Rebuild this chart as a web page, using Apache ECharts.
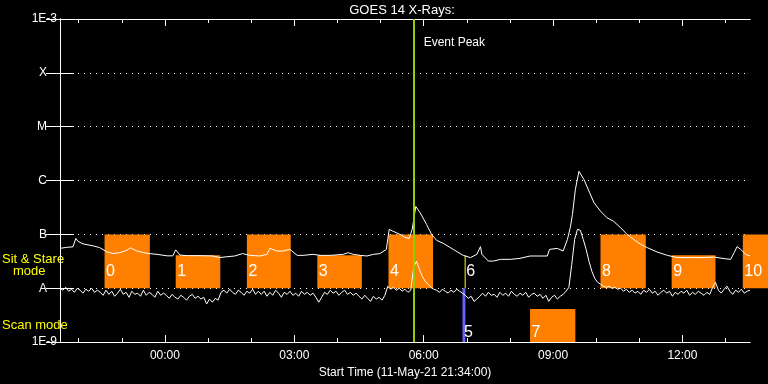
<!DOCTYPE html>
<html><head><meta charset="utf-8">
<script src="https://cdn.jsdelivr.net/npm/echarts@6/dist/echarts.min.js"></script>
<style>html,body{margin:0;padding:0;background:#000}#c{width:768px;height:384px}</style>
</head><body><div id="c"></div>
<script>
// ---------- data ----------
const titleText = 'GOES 14 X-Rays:';
const xAxisTitle = 'Start Time (11-May-21 21:34:00)';
const axisSpanMin = 960; // minutes after start time
const timeTickMinutes = [146, 326, 506, 686, 866];
const timeTickLabels = ['00:00', '03:00', '06:00', '09:00', '12:00'];
const hourTickMinutes = [26, 86, 146, 206, 266, 326, 386, 446, 506, 566, 626, 686, 746, 806, 866, 926];
const fluxLevels = [1e-9, 1e-8, 1e-7, 1e-6, 1e-5, 1e-4, 1e-3];
const fluxLevelLabels = ['1E-9', 'A', 'B', 'C', 'M', 'X', '1E-3'];
const fluxUnit = 1e-8; // flux arrays below are in units of 1e-8 W/m^2 (A class)

// long channel (upper curve)
const longMinutes = [0,9,18,22,25,32,46,55,65,74,83,93,98,107,121,135,149,157,161,167,
  177,195,213,222,232,243,254,264,278,288,292,302,310,320,330,338,352,362,376,394,
  401,408,418,427,436,445,454,458,463,473,480,486,490,495,497,501,510,517,524,533,
  547,561,571,580,585,587,596,603,613,627,640,654,668,678,681,692,700,706,710,713,
  717,722,729,737,743,752,761,770,780,789,798,808,817,831,845,859,877,896,910,924,
  933,938,942,947,954,960];
const longFlux = [5.5,5.74,5.87,8.43,7.42,6.67,6.13,5.7,4.74,4.4,4.58,5.06,5.63,4.91,4.45,4.26,4.0,4.0,5.17,4.13,
  4.03,4.03,3.97,3.71,3.85,3.97,4.4,4.08,3.97,4.26,5.5,4.91,4.91,5.27,4.08,4.08,4.26,4.08,4.08,4.26,
  4.58,4.26,4.08,3.97,4.26,4.4,5.27,12.4,11.5,10,8.8,8.43,12.4,33,31,25.3,15.3,10,7.74,6.85,
  5.27,4.08,3.71,4.26,5.93,4.26,3.2,3.2,3.44,3.44,3.59,3.97,3.97,3.97,5.27,5.5,4.91,8.08,13.5,23.5,
  68,148.6,104,59,38.7,27,20.4,17.6,13.3,10,8.08,6.53,5.68,4.7,4.08,3.71,3.71,3.71,3.8,3.55,
  3.44,4.58,5.93,5.27,4.26,3.97];

// short channel (lower curve), one sample every 4 minutes
const shortStepMin = 4;
const shortFlux = [
  1.00,0.92,1.04,0.88,0.96,0.84,1.00,0.92,0.81,0.96,0.88,1.00,0.84,0.92,
  0.84,0.74,0.92,0.77,0.88,0.71,0.81,0.96,0.77,0.84,0.68,0.88,0.77,0.81,0.71,0.92,0.74,0.84,0.77,0.68,0.88,0.74,0.81,
  0.74,0.65,0.77,0.68,0.63,0.74,0.68,0.60,0.71,0.77,0.65,0.71,0.63,0.68,
  0.51,0.63,0.55,0.65,0.60,0.84,
  0.92,0.81,0.96,0.84,0.77,0.92,0.84,0.74,0.88,0.81,0.96,0.77,0.88,
  0.77,0.88,0.71,0.84,0.74,0.92,0.81,0.68,0.84,0.77,0.88,0.74,0.81,0.71,0.88,0.77,0.84,0.74,0.81,
  0.68,0.55,0.68,
  0.84,0.77,0.92,0.81,0.88,0.74,0.84,0.92,0.77,0.84,0.74,0.81,
  0.71,0.63,0.74,0.65,0.57,0.71,0.63,0.68,0.60,0.74,
  1.09,0.96,1.04,0.92,1.00,0.88,0.96,0.84,0.92,
  2.45,3.16,2.25,1.67,1.35,1.19,1.04,0.96,
  0.92,0.84,0.96,0.88,0.81,0.92,0.84,0.96,0.88,0.81,
  0.74,0.65,0.71,0.57,0.63,0.71,
  0.81,0.71,0.84,0.74,0.77,0.68,0.84,0.74,0.81,0.71,0.88,0.77,0.71,0.81,0.74,0.84,0.68,0.77,0.81,0.71,0.77,0.65,0.74,
  0.57,
  0.68,0.74,0.63,0.71,0.77,
  0.88,
  1.04,2.78,8.08,12.4,11.9,8.08,5.27,3.16,2.06,1.53,1.29,1.19,1.09,1.04,1.09,1.00,1.04,0.96,1.00,0.88,
  0.96,0.84,0.92,0.81,0.88,0.77,0.92,0.84,0.96,0.81,0.88,0.74,0.84,0.92,0.81,0.88,0.71,0.84,0.77,0.88,0.81,0.92,0.74,0.84,0.77,0.88,0.81,0.74,0.84,0.77,
  1.04,1.29,0.92,
  0.81,0.96,1.09,0.88,0.77,0.92,0.84,0.96,0.81,0.88,0.92];

const eventPeakMin = 492;
const eventPeakText = 'Event Peak';
const eventPeakTextFlux = 3.6e-4;

// observation blocks
const obsNames = ['0','1','2','3','4','5','6','7','8','9','10'];
const obsStartMin = [62, 161, 260, 358, 457, 560, 563, 654, 752, 851, 950];
const obsEndMin   = [125, 223, 321, 420, 519, 564, 563, 717, 815, 912, 1013];
const obsTopFlux    = [1e-7, 4.1e-8, 1e-7, 4.1e-8, 1e-7, 1e-8, 4.1e-8, 4.1e-9, 1e-7, 4.1e-8, 1e-7];
const obsBottomFlux = [1e-8, 1e-8, 1e-8, 1e-8, 1e-8, 1e-9, 1e-8, 1e-9, 1e-8, 1e-8, 1e-8];
const obsMode = ['sit','sit','sit','sit','sit','scan','sit','scan','sit','sit','sit'];
const modeLabels = ['Sit & Stare', 'mode', 'Scan mode'];

// ---------- styles ----------
const FONT = '"Liberation Sans", Arial, sans-serif';
const ORANGE = '#ff8000';
const obsColors = obsNames.map((n, i) => n === '5' ? '#6464ff' : (n === '6' ? '#ffff00' : ORANGE));
const modeLabelFlux = { sit: 2.07e-8, scan: 1.53e-9 };

const longData = longMinutes.map((m, i) => [m, longFlux[i] * fluxUnit]);
const shortData = shortFlux.map((v, i) => [i * shortStepMin, v * fluxUnit]);
const obsData = obsNames.map((n, i) => [obsStartMin[i], obsEndMin[i], obsBottomFlux[i], obsTopFlux[i], i]);

const chart = echarts.init(document.getElementById('c'), null, { renderer: 'canvas' });

function baseX(extra) {
  return Object.assign({
    type: 'value', min: 0, max: axisSpanMin, gridIndex: 0,
    axisLine: { show: true, lineStyle: { color: '#fff', width: 1 } },
    splitLine: { show: false },
    axisLabel: { show: false }
  }, extra);
}

const option = {
  backgroundColor: '#000',
  animation: false,
  grid: { left: 60, right: 18, top: 19, bottom: 41 },
  graphic: [
    { type: 'text', x: 402, y: 10, style: { text: titleText, fill: '#fff', font: '13px ' + FONT, align: 'center', verticalAlign: 'middle' } },
    { type: 'text', x: 2, y: 259, style: { text: modeLabels[0], fill: '#ffff00', font: '13px ' + FONT, align: 'left', verticalAlign: 'middle' } },
    { type: 'text', x: 13, y: 271, style: { text: modeLabels[1], fill: '#ffff00', font: '13px ' + FONT, align: 'left', verticalAlign: 'middle' } },
    { type: 'text', x: 2, y: 325, style: { text: modeLabels[2], fill: '#ffff00', font: '13px ' + FONT, align: 'left', verticalAlign: 'middle' } }
  ],
  xAxis: [
    baseX({
      position: 'bottom',
      axisTick: { show: true, inside: true, length: 7, customValues: timeTickMinutes, lineStyle: { color: '#fff' } },
      axisLabel: { show: true, customValues: timeTickMinutes, color: '#fff', fontSize: 12, fontFamily: FONT, margin: 8,
        formatter: v => timeTickLabels[timeTickMinutes.indexOf(Math.round(v))] || '' },
      name: xAxisTitle, nameLocation: 'middle', nameGap: 21,
      nameTextStyle: { color: '#fff', fontSize: 12, fontFamily: FONT }
    }),
    baseX({ position: 'bottom', axisTick: { show: true, inside: true, length: 4, customValues: hourTickMinutes, lineStyle: { color: '#fff' } } }),
    baseX({ position: 'top', axisTick: { show: true, inside: true, length: 7, customValues: timeTickMinutes, lineStyle: { color: '#fff' } } }),
    baseX({ position: 'top', axisTick: { show: true, inside: true, length: 4, customValues: hourTickMinutes, lineStyle: { color: '#fff' } } })
  ],
  yAxis: [
    {
      type: 'log', logBase: 10, min: fluxLevels[0], max: fluxLevels[fluxLevels.length - 1], splitNumber: 6,
      position: 'left',
      axisLine: { show: true, lineStyle: { color: '#fff' } },
      axisTick: { show: true, inside: true, length: 14, lineStyle: { color: '#fff' } },
      minorTick: { show: false },
      splitLine: { show: true, lineStyle: { color: '#fff', width: 1, type: [1, 5] } },
      axisLabel: {
        color: '#fff', fontSize: 12, fontFamily: FONT, margin: 3,
        formatter: v => {
          const idx = Math.round(Math.log10(v)) + 9;
          const t = fluxLevelLabels[idx] || '';
          return t.length > 1 ? '{n|' + t + '}' : '{l|' + t + '}';
        },
        rich: {
          n: { color: '#fff', fontSize: 12, fontFamily: FONT },
          l: { color: '#fff', fontSize: 12, fontFamily: FONT, padding: [0, 10, 0, 0] }
        }
      }
    },
    {
      type: 'log', logBase: 10, min: fluxLevels[0], max: fluxLevels[fluxLevels.length - 1], splitNumber: 6,
      position: 'right',
      axisLine: { show: true, lineStyle: { color: '#fff' } },
      axisTick: { show: true, inside: true, length: 14, lineStyle: { color: '#fff' } },
      splitLine: { show: false },
      axisLabel: { show: false }
    }
  ],
  series: [
    {
      type: 'custom', name: 'observations', xAxisIndex: 0, yAxisIndex: 0, clip: false, z: 1,
      data: obsData,
      renderItem: (params, api) => {
        const i = api.value(4);
        const pTop = api.coord([api.value(0), api.value(3)]);
        const pBot = api.coord([api.value(1), api.value(2)]);
        const w = Math.max(pBot[0] - pTop[0], 1);
        const labelY = api.coord([api.value(0), modeLabelFlux[obsMode[i]]])[1];
        return {
          type: 'group',
          children: [
            { type: 'rect', shape: { x: pTop[0], y: pTop[1], width: w, height: pBot[1] - pTop[1] }, style: { fill: obsColors[i] } },
            { type: 'text', x: pTop[0] + 1.5, y: labelY, style: { text: obsNames[i], fill: '#fff', font: '16px ' + FONT, align: 'left', verticalAlign: 'middle' } }
          ]
        };
      }
    },
    {
      type: 'line', name: 'short', xAxisIndex: 0, yAxisIndex: 0, data: shortData, showSymbol: false, symbol: 'none',
      lineStyle: { color: '#fff', width: 1 }, z: 3, silent: true
    },
    {
      type: 'line', name: 'long', xAxisIndex: 0, yAxisIndex: 0, data: longData, showSymbol: false, symbol: 'none',
      lineStyle: { color: '#fff', width: 1 }, z: 3, silent: true,
      markLine: {
        silent: true, symbol: 'none', label: { show: false },
        lineStyle: { color: '#99cc00', width: 2, type: 'solid' },
        data: [{ xAxis: eventPeakMin }]
      }
    },
    {
      type: 'custom', name: 'eventLabel', xAxisIndex: 0, yAxisIndex: 0, z: 4,
      data: [[eventPeakMin, eventPeakTextFlux]],
      renderItem: (params, api) => {
        const p = api.coord([api.value(0), api.value(1)]);
        return { type: 'text', x: p[0] + 10, y: p[1], style: { text: eventPeakText, fill: '#fff', font: '12px ' + FONT, align: 'left', verticalAlign: 'middle' } };
      }
    }
  ]
};
chart.setOption(option);
</script>
</body></html>
